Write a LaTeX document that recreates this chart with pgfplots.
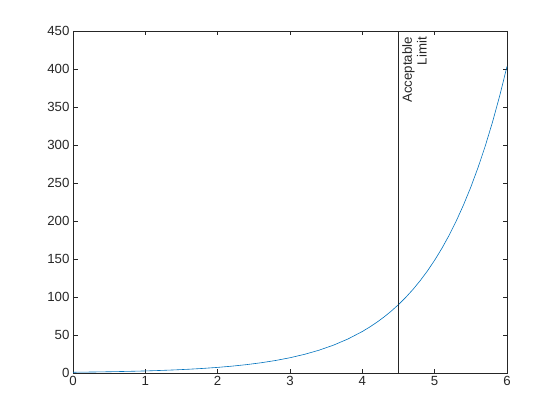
\documentclass[border=0pt]{standalone}
\usepackage{pgfplots}
\pgfplotsset{compat=1.18}
\usepackage{fontspec}
\setmainfont{Liberation Sans}
\definecolor{mblue}{rgb}{0,0.447,0.741}
\definecolor{mgray}{rgb}{0.15,0.15,0.15}
\begin{document}
\begin{tikzpicture}[x=1bp,y=1bp]
\useasboundingbox (-73bp,-47bp) rectangle (487bp,373bp);
\begin{axis}[
  at={(0,0)}, anchor=south west,
  scale only axis, width=434bp, height=342bp,
  xmin=0, xmax=6, ymin=0, ymax=450,
  xtick={0,1,...,6}, ytick={0,50,...,450},
  tick align=inside, major tick length=4.5bp,
  axis line style={mgray, line width=0.5bp},
  every tick/.style={mgray, line width=0.5bp},
  tick label style={font=\fontsize{13.3}{15}\selectfont, text=mgray},
  /pgf/number format/assume math mode=true,
  scaled ticks=false,
  clip=false,
]
\addplot[mblue, line width=0.6bp] coordinates {
(0,1) (0.2,1.2214) (0.4,1.4918) (0.6,1.8221) (0.8,2.2255) (1.0,2.7183)
(1.2,3.3201) (1.4,4.0552) (1.6,4.9530) (1.8,6.0496) (2.0,7.3891)
(2.2,9.0250) (2.4,11.0232) (2.6,13.4637) (2.8,16.4446) (3.0,20.0855)
(3.2,24.5325) (3.4,29.9641) (3.6,36.5982) (3.8,44.7012) (4.0,54.5982)
(4.1,60.3403) (4.2,66.6863) (4.3,73.6998) (4.4,81.4509) (4.5,90.0171)
(4.6,99.4843) (4.7,109.9472) (4.8,121.5104) (4.9,134.2898) (5.0,148.4132)
(5.1,164.0219) (5.2,181.2722) (5.3,200.3368) (5.4,221.4064) (5.5,244.6919)
(5.6,270.4264) (5.7,298.8674) (5.8,330.2996) (5.9,365.0375) (6.0,403.4288)
};
\addplot[mgray, line width=0.5bp] coordinates {(4.5,0) (4.5,450)};
\node[rotate=90, anchor=north east, align=right, inner sep=2bp, text=mgray,
  font=\fontsize{13.3}{15}\selectfont, xshift=-4bp, yshift=-1.5bp]
  at (axis cs:4.5,450) {Acceptable\\Limit};
\end{axis}
\end{tikzpicture}
\end{document}
